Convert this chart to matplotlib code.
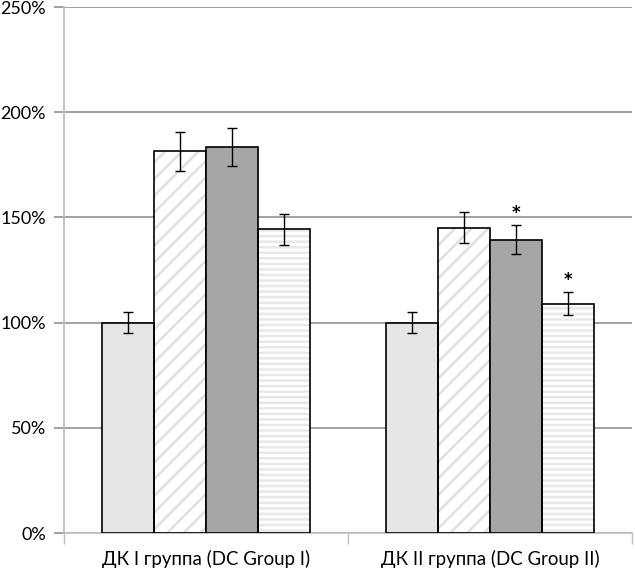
import matplotlib
matplotlib.use("Agg")
import matplotlib.pyplot as plt
import numpy as np

categories = ["ДК I группа (DC Group I)", "ДК II группа (DC Group II)"]
series1 = [100, 100]
series2 = [181.4, 145.1]
series3 = [183.5, 139.4]
series4 = [144.3, 109.0]
err1 = [5.0, 5.0]
err2 = [9.2, 7.3]
err3 = [9.1, 7.0]
err4 = [7.2, 5.6]
star3 = [False, True]
star4 = [False, True]
yticks = [0, 50, 100, 150, 200, 250]
ytick_labels = ["0%", "50%", "100%", "150%", "200%", "250%"]

plt.rcParams['font.family'] = ['Lato', 'DejaVu Sans']
plt.rcParams['hatch.linewidth'] = 1.8

fig = plt.figure(figsize=(6.35, 5.71), dpi=100)
ax = fig.add_axes([64/635, 1 - 533/571, (632-64)/635, (533-7)/571])

x = np.arange(len(categories))
w = 0.183
offs = [-1.5*w, -0.5*w, 0.5*w, 1.5*w]
vals = [series1, series2, series3, series4]
errs = [err1, err2, err3, err4]
faces = ['#e6e6e6', 'white', '#a6a6a6', 'white']
hatches = [None, '//', None, '---']
hcolors = [None, '#e0e0e0', None, '#e8e8e8']

for v, e, o, fc, h, hc in zip(vals, errs, offs, faces, hatches, hcolors):
    if h is not None:
        ax.bar(x + o, v, w, color='white', edgecolor=hc, hatch=h, linewidth=0, zorder=2)
        ax.bar(x + o, v, w, fill=False, edgecolor='black', linewidth=1.2, zorder=3)
    else:
        ax.bar(x + o, v, w, color=fc, edgecolor='black', linewidth=1.2, zorder=3)
    ax.errorbar(x + o, v, yerr=e, fmt='none', ecolor='black', elinewidth=1.0,
                capsize=3.3, capthick=1.0, zorder=4)

for i in range(len(categories)):
    if star3[i]:
        ax.text(x[i] + offs[2], series3[i] + err3[i] + 1.5, '*', ha='center', va='bottom',
                fontsize=12, fontweight='bold', family='DejaVu Sans')
    if star4[i]:
        ax.text(x[i] + offs[3], series4[i] + err4[i] + 1.5, '*', ha='center', va='bottom',
                fontsize=12, fontweight='bold', family='DejaVu Sans')

ax.set_xlim(-0.5, 1.5)
ax.set_ylim(0, 250)
ax.set_yticks(yticks)
ax.set_yticklabels(ytick_labels, fontsize=13)
ax.yaxis.grid(True, color='#868686', linewidth=1.1, zorder=0)
ax.set_axisbelow(True)
ax.tick_params(axis='y', length=7, width=1.1, color='#868686', pad=6, labelcolor='black')

ax.set_xticks([-0.5, 0.5, 1.5], minor=False)
ax.set_xticklabels(['', '', ''])
ax.set_xticks(x, minor=True)
ax.set_xticklabels(categories, minor=True, fontsize=13.4)
ax.tick_params(axis='x', which='major', length=8, width=1.0, color='#bfbfbf')
ax.tick_params(axis='x', which='minor', length=0, pad=12)

for s in ['top', 'right']:
    ax.spines[s].set_visible(False)
ax.spines['left'].set_color('#bfbfbf')
ax.spines['left'].set_linewidth(1.3)
ax.spines['bottom'].set_color('#bfbfbf')
ax.spines['bottom'].set_linewidth(1.3)

fig.savefig('out.png', dpi=100)
